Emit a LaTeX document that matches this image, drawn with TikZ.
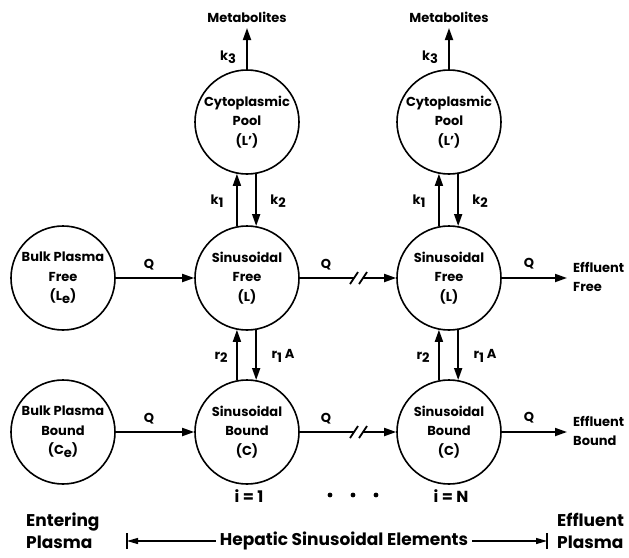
\documentclass[tikz,border=0pt]{standalone}
\usepackage{fontspec}
\setmainfont{Poppins}
\usetikzlibrary{arrows.meta}
\newcommand{\lo}[1]{\raisebox{-0.45ex}{#1}}
\tikzset{
  pool/.style={circle, draw, line width=1.6pt, minimum size=104pt, inner sep=0pt, align=center,
    font=\bfseries\fontsize{13}{19.5}\selectfont},
  arr/.style={line width=1.8pt, -{Triangle[length=12pt,width=8pt]}},
  plain/.style={line width=1.8pt},
  lbl/.style={font=\bfseries\fontsize{13}{15}\selectfont, inner sep=0pt},
  eflbl/.style={font=\bfseries\fontsize{13}{19}\selectfont, inner sep=0pt, align=left, anchor=west},
  big/.style={font=\bfseries\fontsize{17}{22}\selectfont, inner sep=0pt},
}
\begin{document}
\begin{tikzpicture}[x=1pt,y=-1pt]
\path[use as bounding box, fill=white] (0,0) rectangle (629,557);
% circles
\node[pool] (bf) at (63,278) {Bulk Plasma\\Free\\(L\lo{e})};
\node[pool] (bb) at (63,432) {Bulk Plasma\\Bound\\(C\lo{e})};
\node[pool] (c1) at (247,122) {Cytoplasmic\\Pool\\(L')};
\node[pool] (f1) at (247,278) {Sinusoidal\\Free\\(L)};
\node[pool] (b1) at (247,432) {Sinusoidal\\Bound\\(C)};
\node[pool] (c2) at (449,122) {Cytoplasmic\\Pool\\(L')};
\node[pool] (f2) at (449,278) {Sinusoidal\\Free\\(L)};
\node[pool] (b2) at (449,432) {Sinusoidal\\Bound\\(C)};
% metabolites
\coordinate (m1) at (247,28);
\coordinate (m2) at (449,28);
\node[lbl] (mt1) at (247,17) {Metabolites};
\node[lbl] (mt2) at (449,17) {Metabolites};
\draw[arr] (c1) -- (m1);
\draw[arr] (c2) -- (m2);
\node[lbl] (k31) at (228,57) {k\lo{3}};
\node[lbl] (k32) at (430,57) {k\lo{3}};
% k1 / k2
\draw[arr] (f1.101) -- (c1.259);
\draw[arr] (c1.280) -- (f1.80);
\draw[arr] (f2.101) -- (c2.259);
\draw[arr] (c2.280) -- (f2.80);
\node[lbl] (k11) at (217,201) {k\lo{1}};
\node[lbl] (k21) at (278,201) {k\lo{2}};
\node[lbl] (k12) at (419,201) {k\lo{1}};
\node[lbl] (k22) at (480,201) {k\lo{2}};
% r2 / r1A
\draw[arr] (b1.101) -- (f1.259);
\draw[arr] (f1.280) -- (b1.80);
\draw[arr] (b2.101) -- (f2.259);
\draw[arr] (f2.280) -- (b2.80);
\node[lbl] (r21) at (221,357) {r\lo{2}};
\node[lbl] (r11) at (283,356) {r\lo{1} A};
\node[lbl] (r22) at (423,357) {r\lo{2}};
\node[lbl] (r12) at (485,356) {r\lo{1} A};
% Q flows, free row
\draw[arr] (bf) -- (f1);
\node[lbl] (qf1) at (149,265) {Q};
\coordinate (sf1) at (354,278);
\coordinate (sf2) at (363,278);
\draw[plain] (f1) -- (sf1);
\draw[arr] (sf2) -- (f2);
\draw[plain] ([shift={(-4,6)}]sf1) -- ([shift={(4,-6)}]sf1);
\draw[plain] ([shift={(-4,6)}]sf2) -- ([shift={(4,-6)}]sf2);
\node[lbl] (qf2) at (326,265) {Q};
\coordinate (ef) at (567,278);
\draw[arr] (f2) -- (ef);
\node[lbl] (qf3) at (529,264) {Q};
\node[eflbl] (eft) at (573,277) {Effluent\\Free};
% Q flows, bound row
\draw[arr] (bb) -- (b1);
\node[lbl] (qb1) at (149,419) {Q};
\coordinate (sb1) at (354,432);
\coordinate (sb2) at (363,432);
\draw[plain] (b1) -- (sb1);
\draw[arr] (sb2) -- (b2);
\draw[plain] ([shift={(-4,6)}]sb1) -- ([shift={(4,-6)}]sb1);
\draw[plain] ([shift={(-4,6)}]sb2) -- ([shift={(4,-6)}]sb2);
\node[lbl] (qb2) at (326,419) {Q};
\coordinate (eb) at (567,432);
\draw[arr] (b2) -- (eb);
\node[lbl] (qb3) at (529,418) {Q};
\node[eflbl] (ebt) at (573,431) {Effluent\\Bound};
% indices
\node[big, font=\bfseries\fontsize{16}{20}\selectfont] (i1) at (249,496) {i = 1};
\node[big, font=\bfseries\fontsize{16}{20}\selectfont] (iN) at (451,496) {i = N};
\fill (330,495) circle (2.4pt) (353,495) circle (2.4pt) (376,495) circle (2.4pt);
% bottom scale
\node[big, align=left, anchor=west] (ent) at (26,531) {Entering\\Plasma};
\node[big, align=left, anchor=west] (eff) at (557,531) {Effluent\\Plasma};
\node[big] (hep) at (344,541) {Hepatic Sinusoidal Elements};
\coordinate (bl) at (127,541);
\coordinate (br) at (547,541);
\draw[line width=1.3pt, -{Triangle[length=11pt,width=6pt]}] ([xshift=-4pt]hep.west) -- (bl);
\draw[line width=1.3pt, -{Triangle[length=11pt,width=6pt]}] ([xshift=4pt]hep.east) -- (br);
\draw[line width=1.5pt] ([yshift=-8pt]bl) -- ([yshift=8pt]bl);
\draw[line width=1.5pt] ([yshift=-8pt]br) -- ([yshift=8pt]br);
\end{tikzpicture}
\end{document}
